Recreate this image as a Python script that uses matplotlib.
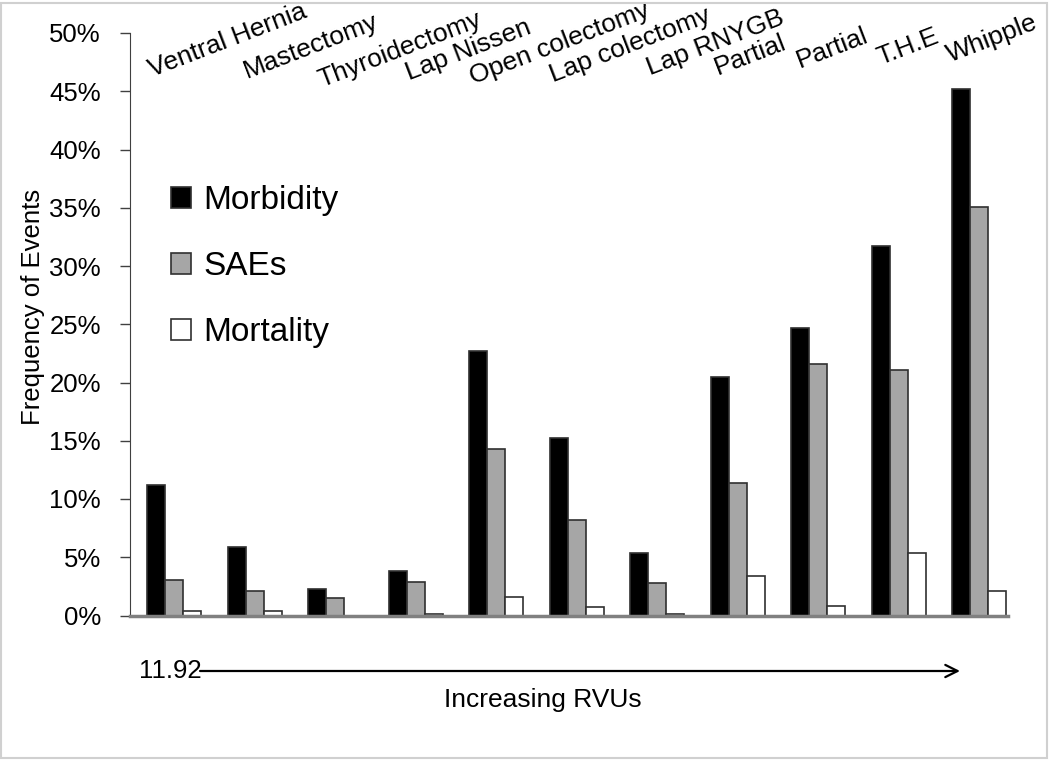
import matplotlib
matplotlib.use("Agg")
import matplotlib.pyplot as plt
from matplotlib.patches import Rectangle
import numpy as np

plt.rcParams['font.family'] = ['Liberation Sans', 'DejaVu Sans']

categories = ["Ventral Hernia", "Mastectomy", "Thyroidectomy", "Lap Nissen",
              "Open colectomy", "Lap colectomy", "Lap RNYGB", "Partial",
              "Partial", "T.H.E", "Whipple"]
morbidity = [11.2, 5.85, 2.25, 3.8, 22.7, 15.25, 5.4, 20.5, 24.7, 31.7, 45.2]
saes = [3.05, 2.1, 1.5, 2.85, 14.3, 8.2, 2.75, 11.4, 21.6, 21.1, 35.1]
mortality = [0.4, 0.4, 0.0, 0.15, 1.55, 0.7, 0.15, 3.4, 0.8, 5.4, 2.1]
series_names = ["Morbidity", "SAEs", "Mortality"]
yticks = list(range(0, 55, 5))
rvu_start = "11.92"

# layout (pixel estimates for rotated category labels)
label_dx_px = [5, 20, 14, 21, 4, 3.5, 20, 7.5, 9, 8.5, -2]
label_base_px = [77, 78, 87, 80, 84, 82, 75, 75, 68, 65, 62]

W, H = 1050, 768
fig = plt.figure(figsize=(W / 100, H / 100), dpi=100)
ax_l, ax_r, ax_b, ax_t = 130, 1008, 615.5, 33
ax = fig.add_axes([ax_l / W, 1 - ax_b / H, (ax_r - ax_l) / W, (ax_b - ax_t) / H])

group_px = 80.5
L = -0.336 - (147 - ax_l) / group_px
R = L + (ax_r - ax_l) / group_px
w = 18 / group_px
x = np.arange(len(categories))
edge = "#303030"
ax.bar(x - 1.5 * w, morbidity, w, align='edge', color="black", edgecolor=edge, lw=1.2,
       label=series_names[0])
ax.bar(x - 0.5 * w, saes, w, align='edge', color="#a6a6a6", edgecolor=edge, lw=1.2,
       label=series_names[1])
ax.bar(x + 0.5 * w, mortality, w, align='edge', color="white", edgecolor=edge, lw=1.2,
       label=series_names[2])

ax.set_xlim(L, R)
ax.set_ylim(0, 50)
ax.set_yticks(yticks)
ax.set_yticklabels([f"{t}%" for t in yticks], fontsize=18.5)
ax.set_xticks([])
ax.tick_params(axis='y', direction='out', length=7, width=1, color="#404040", pad=14)
for s in ["top", "right"]:
    ax.spines[s].set_visible(False)
ax.spines["left"].set_color("#404040")
ax.spines["bottom"].set_color("#808080")
ax.spines["bottom"].set_linewidth(2.5)
ax.set_ylabel("Frequency of Events", fontsize=18.5)
ax.yaxis.set_label_coords(-0.097, 0.53)

# category labels
for i, name in enumerate(categories):
    px = 147 + i * group_px + label_dx_px[i]
    xd = L + (px - ax_l) / group_px
    yd = (ax_b - label_base_px[i]) / ((ax_b - ax_t) / 50)
    ax.text(xd, yd, name, rotation=21, rotation_mode='anchor', ha='left',
            va='baseline', fontsize=19, clip_on=False)

leg = ax.legend(loc='upper left', bbox_to_anchor=((158 - ax_l) / (ax_r - ax_l), (ax_b - 172) / (ax_b - ax_t)),
                frameon=False, fontsize=24, handlelength=0.6, handleheight=0.6,
                handletextpad=0.35, labelspacing=1.05, borderaxespad=0)

# RVU arrow
ya = 1 - 671 / H
fig.text(139 / W, ya, rvu_start, fontsize=18.5, ha='left', va='center')
ax.annotate("", xy=(960 / W, ya), xytext=(200 / W, ya), xycoords='figure fraction',
            textcoords='figure fraction',
            arrowprops=dict(arrowstyle='->', lw=1.6, color='black', mutation_scale=22,
                            shrinkA=0, shrinkB=0))
fig.text(543 / W, 1 - 700 / H, "Increasing RVUs", fontsize=19, ha='center', va='center')

fig.patches.append(Rectangle((0.001, 0.013), 0.996, 0.983, transform=fig.transFigure,
                             fill=False, edgecolor="#d0d0d0", lw=1.5))

fig.savefig("out.png", dpi=100)
